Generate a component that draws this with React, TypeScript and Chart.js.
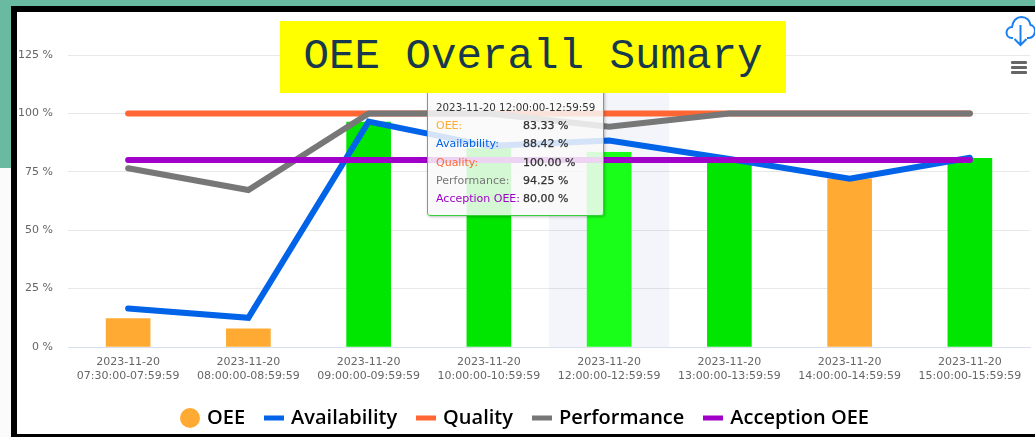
import React, { useEffect, useRef } from "react";
import { Chart, registerables } from "chart.js";

Chart.register(...registerables);

const dates = ["2023-11-20", "2023-11-20", "2023-11-20", "2023-11-20", "2023-11-20", "2023-11-20", "2023-11-20", "2023-11-20"];
const times = [
  "07:30:00-07:59:59",
  "08:00:00-08:59:59",
  "09:00:00-09:59:59",
  "10:00:00-10:59:59",
  "12:00:00-12:59:59",
  "13:00:00-13:59:59",
  "14:00:00-14:59:59",
  "15:00:00-15:59:59",
];
const oee = [12.2, 7.8, 96.3, 85, 83.33, 80.5, 72, 80.8];
const availability = [16.5, 12.5, 96.5, 86, 88.42, 80.5, 72, 81];
const quality = [100, 100, 100, 100, 100, 100, 100, 100];
const performance = [76.5, 67.2, 100, 100, 94.25, 100, 100, 100];
const acception = [80, 80, 80, 80, 80, 80, 80, 80];
const oeeColors = ["#ffab33", "#ffab33", "#00e600", "#00e600", "#1aff1a", "#00e600", "#ffab33", "#00e600"];
const yTicksMax = 125;
const activeIndex = 4;

const FONT = "'DejaVu Sans', sans-serif";

function marker(color: string, round: boolean) {
  const c = document.createElement("canvas");
  c.width = 20;
  c.height = 20;
  const x = c.getContext("2d")!;
  x.fillStyle = color;
  if (round) {
    x.beginPath();
    x.arc(10, 10, 10, 0, Math.PI * 2);
    x.fill();
  } else {
    x.fillRect(0, 7.5, 20, 5);
  }
  return c;
}

const bandPlugin = {
  id: "band",
  afterLayout(chart: any) {
    chart.legend.left += 5;
  },
  beforeDatasetsDraw(chart: any) {
    const { ctx, chartArea, scales } = chart;
    const cx = scales.x.getPixelForValue(activeIndex);
    const w = scales.x.getPixelForValue(1) - scales.x.getPixelForValue(0);
    ctx.save();
    ctx.fillStyle = "rgba(51,92,173,0.06)";
    ctx.fillRect(cx - w / 2, chartArea.top, w, chartArea.bottom - chartArea.top);
    ctx.restore();
  },
};

export default function App() {
  const canvasRef = useRef<HTMLCanvasElement>(null);
  const tipRef = useRef<HTMLDivElement>(null);

  useEffect(() => {
    const chart = new Chart(canvasRef.current!, {
      type: "bar",
      plugins: [bandPlugin],
      data: {
        labels: times.map((t, i) => [dates[i], t]),
        datasets: [
          { type: "bar", label: "OEE", data: oee, backgroundColor: oeeColors, hoverBackgroundColor: oeeColors, barThickness: 44, order: 5, legendColor: "#ffab33" },
          { type: "line", label: "Availability", data: availability, borderColor: "#0063e8", backgroundColor: "#0063e8", order: 2 },
          { type: "line", label: "Quality", data: quality, borderColor: "#ff6633", backgroundColor: "#ff6633", order: 4 },
          { type: "line", label: "Performance", data: performance, borderColor: "#777777", backgroundColor: "#777777", order: 3 },
          { type: "line", label: "Acception OEE", data: acception, borderColor: "#a100c8", backgroundColor: "#a100c8", order: 1 },
        ] as any,
      },
      options: {
        animation: false,
        responsive: false,
        events: [],
        layout: { padding: { top: 43, right: 10, left: 0, bottom: 0 } },
        elements: {
          line: { borderWidth: 6, borderCapStyle: "round", borderJoinStyle: "miter", tension: 0 },
          point: { radius: 0, hoverRadius: 0 },
        },
        scales: {
          x: {
            offset: true,
            grid: { display: false },
            border: { color: "#d8dfee", width: 1 },
            ticks: { color: "#666666", font: { family: FONT, size: 11, lineHeight: 1.27 }, autoSkip: false, maxRotation: 0, padding: 0 },
            afterFit: (s: any) => { s.height = 39; },
          },
          y: {
            min: 0,
            max: yTicksMax,
            grid: { color: "#e8e8e8", drawTicks: false },
            border: { display: false },
            ticks: {
              stepSize: 25,
              color: "#666666",
              font: { family: FONT, size: 11 },
              padding: 15,
              callback: (v: any) => `${v} %`,
            },
            afterFit: (s: any) => { s.width = 51; },
          },
        },
        plugins: {
          legend: {
            position: "bottom",
            labels: {
              usePointStyle: true,
              pointStyleWidth: 14,
              boxHeight: 14,
              padding: 22,
              color: "#000000",
              font: { family: "'Open Sans', sans-serif", size: 20, weight: "600" },
              generateLabels: (c: any) =>
                c.data.datasets.map((d: any, i: number) => ({
                  text: d.label,
                  fontColor: "#000000",
                  pointStyle: marker(d.legendColor || d.borderColor, d.type === "bar"),
                  datasetIndex: i,
                  hidden: false,
                  lineWidth: 0,
                  strokeStyle: "transparent",
                  fillStyle: d.legendColor || d.borderColor,
                })),
            },
          },
          tooltip: {
            enabled: false,
            mode: "index",
            intersect: false,
            external: ({ tooltip }: any) => {
              const el = tipRef.current;
              if (!el) return;
              const rows = tooltip.dataPoints
                .slice()
                .sort((a: any, b: any) => a.datasetIndex - b.datasetIndex)
                .map((p: any) => {
                  const d = p.dataset;
                  const color = d.legendColor || d.borderColor;
                  return `<div style="height:18.3px;line-height:18.3px;white-space:nowrap"><span style="display:inline-block;width:87px;color:${color}">${d.label}:</span><span style="color:#333;-webkit-text-stroke:0.25px #333">${p.parsed.y.toFixed(2)} %</span></div>`;
                })
                .join("");
              el.innerHTML = `<div style="font-size:10.3px;color:#333;height:20px;line-height:20px;white-space:nowrap">${dates[activeIndex]} ${times[activeIndex]}</div>${rows}`;
            },
          },
        },
      } as any,
    });
    const els = chart.data.datasets.map((_: any, i: number) => ({ datasetIndex: i, index: activeIndex }));
    chart.tooltip!.setActiveElements(els, { x: 0, y: 0 });
    chart.update();
    return () => chart.destroy();
  }, []);

  return (
    <div style={{ position: "absolute", left: 0, top: 0, width: 1035, height: 437, overflow: "hidden", background: "#fbfbfb" }}>
      <div style={{ position: "absolute", left: 0, top: 0, width: 1035, height: 6, background: "#69baa1" }} />
      <div style={{ position: "absolute", left: 0, top: 0, width: 11, height: 168, background: "#69baa1" }} />
      <div style={{ position: "absolute", left: 11, top: 6, width: 1024, height: 431, background: "#000" }} />
      <div style={{ position: "absolute", left: 17, top: 12, width: 1018, height: 422, background: "#fff" }}>
        <canvas ref={canvasRef} width={1023} height={426} style={{ display: "block" }} />
      </div>
      <div
        ref={tipRef}
        style={{
          position: "absolute",
          left: 427,
          top: 85,
          width: 177,
          height: 131,
          boxSizing: "border-box",
          padding: "11px 8px 0 8px",
          background: "rgba(249,249,249,0.85)",
          border: "1px solid #35cf3c",
          borderRadius: 3,
          boxShadow: "1px 1px 3px rgba(0,0,0,0.25)",
          fontFamily: FONT,
          fontSize: 11,
        }}
      />
      <div
        style={{
          position: "absolute",
          left: 280,
          top: 21,
          width: 506,
          height: 72,
          background: "#ffff00",
          color: "#17384d",
          fontFamily: "'Liberation Mono', monospace",
          fontSize: 42.5,
          lineHeight: "72px",
          textAlign: "center",
          whiteSpace: "nowrap",
        }}
      >
        OEE Overall Sumary
      </div>
      <svg style={{ position: "absolute", left: 1005, top: 15 }} width={30} height={32} viewBox="0 0 30 32" fill="none" stroke="#1a7ff0" strokeWidth={2}>
        <path d="M8 23 H7 C3.5 23 1.5 20.5 1.5 17.5 C1.5 14.5 4 12 7 12 C7.5 6 11.5 2 16.5 2 C21.5 2 25 5.5 25.5 10 C28 10.5 30 13 30 16 C30 20 27 23 24 23 H22" />
        <path d="M15.5 10 V30 M9.5 24 L15.5 30 L21.5 24" />
      </svg>
      <div style={{ position: "absolute", left: 1011, top: 61, width: 16, height: 3, background: "#666", borderRadius: 1 }} />
      <div style={{ position: "absolute", left: 1011, top: 66, width: 16, height: 3, background: "#666", borderRadius: 1 }} />
      <div style={{ position: "absolute", left: 1011, top: 71, width: 16, height: 3, background: "#666", borderRadius: 1 }} />
    </div>
  );
}
